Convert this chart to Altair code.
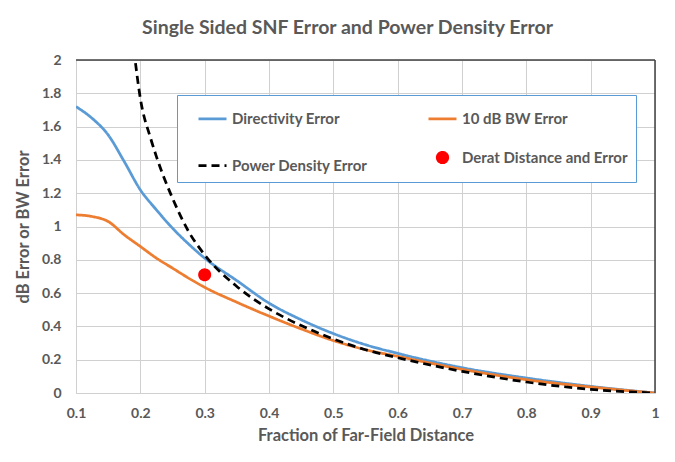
import altair as alt
import pandas as pd

# ---- data ----
series_names = ["Directivity Error", "10 dB BW Error", "Power Density Error", "Derat Distance and Error"]
series_colors = ["#5b9bd5", "#ed7d31", "#000000", "#ff0000"]

x_main = [0.1, 0.125, 0.15, 0.175, 0.2, 0.225, 0.25, 0.275, 0.3, 0.35, 0.4, 0.45, 0.5, 0.55, 0.6, 0.7, 0.8, 0.9, 1.0]
directivity = [1.72, 1.65, 1.55, 1.39, 1.22, 1.10, 0.99, 0.895, 0.81, 0.675, 0.54, 0.44, 0.357, 0.29, 0.238, 0.152, 0.09, 0.04, 0.0]
bw_error = [1.07, 1.06, 1.03, 0.95, 0.88, 0.81, 0.75, 0.69, 0.635, 0.545, 0.462, 0.385, 0.315, 0.26, 0.22, 0.142, 0.08, 0.036, 0.0]

x_pd = [0.19, 0.2, 0.216, 0.225, 0.25, 0.275, 0.3, 0.35, 0.4, 0.45, 0.5, 0.55, 0.6, 0.7, 0.8, 0.9, 1.0]
power_density = [2.06, 1.77, 1.53, 1.42, 1.17, 0.97, 0.83, 0.64, 0.505, 0.405, 0.325, 0.26, 0.212, 0.13, 0.066, 0.022, 0.0]

derat_x = [0.3]
derat_y = [0.71]

x_ticks = [0.1, 0.2, 0.3, 0.4, 0.5, 0.6, 0.7, 0.8, 0.9, 1.0]
y_ticks = [0, 0.2, 0.4, 0.6, 0.8, 1.0, 1.2, 1.4, 1.6, 1.8, 2.0]

rows = []
for xv, yv in zip(x_main, directivity):
    rows.append({"x": xv, "y": yv, "series": series_names[0]})
for xv, yv in zip(x_main, bw_error):
    rows.append({"x": xv, "y": yv, "series": series_names[1]})
for xv, yv in zip(x_pd, power_density):
    rows.append({"x": xv, "y": yv, "series": series_names[2]})
lines_df = pd.DataFrame(rows)
pt_df = pd.DataFrame({"x": derat_x, "y": derat_y, "series": [series_names[3]] * len(derat_x)})

GREY = "#595959"
GRID = "#d0d0d0"
FONT = "Lato"

x_scale = alt.Scale(domain=[0.1, 1.0], nice=False, zero=False)
y_scale = alt.Scale(domain=[0, 2], nice=False)
color_scale = alt.Scale(domain=series_names, range=series_colors)
dash_scale = alt.Scale(domain=series_names, range=[[1, 0], [1, 0], [8, 5], [1, 0]])
shape_scale = alt.Scale(domain=series_names, range=["stroke", "stroke", "stroke", "circle"])
size_scale = alt.Scale(type="ordinal", domain=series_names, range=[784, 784, 784, 110])

x_axis = alt.Axis(title="Fraction of Far-Field Distance", values=x_ticks, format="~g",
                  grid=True, gridColor=GRID, domainColor=GRID, ticks=False,
                  labelPadding=13, titlePadding=7, labelFlush=False, labelOverlap=False)
y_axis = alt.Axis(title="dB Error or BW Error", values=y_ticks, format="~g",
                  grid=True, gridColor=GRID, domainColor=GRID, ticks=False,
                  labelPadding=15, titlePadding=10, labelFlush=False, labelOverlap=False)

legend = alt.Legend(title=None, orient="none", legendX=101, legendY=35, columns=2,
                    direction="horizontal",
                    columnPadding=47, rowPadding=19, padding=8, symbolOffset=12,
                    strokeColor="#5b9bd5", fillColor="white",
                    labelFont=FONT, labelFontSize=15, labelFontWeight="bold", labelColor=GREY,
                    labelLimit=300, labelOffset=4, symbolStrokeWidth=2.75, symbolOpacity=1,
                    symbolFillColor="#ff0000")

points = alt.Chart(pt_df).mark_point(filled=False, fill="#ff0000", opacity=1, strokeWidth=2.5).encode(
    x=alt.X("x:Q", scale=x_scale, axis=x_axis),
    y=alt.Y("y:Q", scale=y_scale, axis=y_axis),
    color=alt.Color("series:N", scale=color_scale, legend=legend),
    shape=alt.Shape("series:N", scale=shape_scale, legend=legend),
    strokeDash=alt.StrokeDash("series:N", scale=dash_scale, legend=legend),
    size=alt.Size("series:N", scale=size_scale, legend=legend),
)

lines = alt.Chart(lines_df).mark_line(interpolate="monotone", strokeWidth=2.75, clip=True).encode(
    x=alt.X("x:Q", scale=x_scale, axis=x_axis),
    y=alt.Y("y:Q", scale=y_scale, axis=y_axis),
    color=alt.Color("series:N", scale=color_scale, legend=legend),
    strokeDash=alt.StrokeDash("series:N", scale=dash_scale, legend=legend),
    detail="series:N",
)

top_rule = alt.Chart(pt_df).mark_rule(color="#404040", strokeWidth=1.5).encode(
    x=alt.datum(0.1, scale=x_scale, axis=x_axis), x2=alt.datum(1.0),
    y=alt.datum(2.0, scale=y_scale, axis=y_axis)
)
right_rule = alt.Chart(pt_df).mark_rule(color="#404040", strokeWidth=1.5).encode(
    x=alt.datum(1.0, scale=x_scale, axis=x_axis),
    y=alt.datum(0.0, scale=y_scale, axis=y_axis), y2=alt.datum(2.0)
)

chart = alt.layer(points, lines, top_rule, right_rule).properties(
    width=579, height=333,
    autosize=alt.AutoSizeParams(type="none"),
    padding={"left": 68, "top": 52, "right": 12, "bottom": 60},
    title=alt.Title("Single Sided SNF Error and Power Density Error", fontSize=19.5, fontWeight="bold",
                    color=GREY, font=FONT, anchor="middle", frame="group", dx=-18, offset=15),
).configure_view(stroke=None).configure_axis(
    labelFont=FONT, labelFontSize=14, labelFontWeight="bold", labelColor=GREY,
    titleFont=FONT, titleFontSize=16.5, titleFontWeight="bold", titleColor=GREY,
)

chart.save("out.html", embed_options={"renderer": "svg", "actions": False})
